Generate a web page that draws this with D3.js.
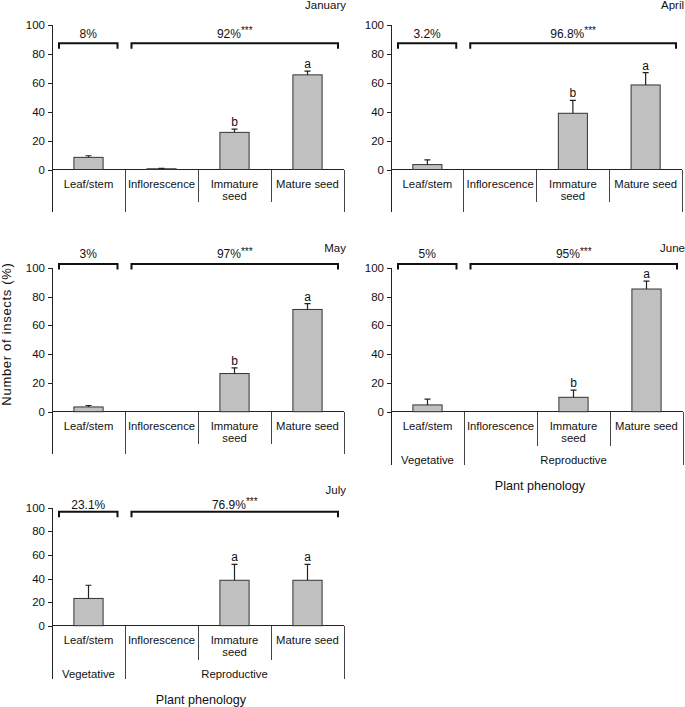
<!DOCTYPE html>
<meta charset="utf-8">
<script src="https://d3js.org/d3.v7.min.js"></script>
<style>
body { margin: 0; background: #fff; }
svg text { font-family: "Liberation Sans", Arial, sans-serif; fill: #111; }
</style>
<svg class="chart" width="685" height="707"></svg>
<script>
var categories = ["Leaf/stem", "Inflorescence", "Immature seed", "Mature seed"];
var catLines = [["Leaf/stem"], ["Inflorescence"], ["Immature", "seed"], ["Mature seed"]];
var groups = ["Vegetative", "Reproductive"];
var months = ["January", "April", "May", "June", "July"];
var yTicks = [0, 20, 40, 60, 80, 100];

// mean % of insects per plant part, one row per month
var means = [
  [8.4, 0.5, 25.7, 65.5],
  [3.4, 0, 38.9, 58.5],
  [3.3, 0, 26.5, 71],
  [4.7, 0, 10, 85.2],
  [23.1, 0, 38.5, 38.5]
];
var errs = [
  [1.1, 0.3, 2.2, 2.6],
  [3.2, 0, 9, 8.5],
  [1, 0, 4, 4],
  [4, 0, 5, 5.5],
  [11.2, 0, 13.5, 13.5]
];
var letters = [
  ["", "", "b", "a"],
  ["", "", "b", "a"],
  ["", "", "b", "a"],
  ["", "", "b", "a"],
  ["", "", "a", "a"]
];
var vegPct = ["8%", "3.2%", "3%", "5%", "23.1%"];
var repPct = ["92%", "96.8%", "97%", "95%", "76.9%"];
var repStars = ["***", "***", "***", "***", "***"];

// where each panel sits on the page
var layout = [
  {x0: 52, x1: 344, top: 25, bottom: 169.5, brk: 43.3, pct: 37.5, month: 9, grp: false},
  {x0: 391, x1: 682, top: 25, bottom: 169.5, brk: 43.3, pct: 37.5, month: 9, grp: false},
  {x0: 52, x1: 344, top: 267.7, bottom: 411.7, brk: 264, pct: 258, month: 252, grp: false},
  {x0: 391, x1: 683, top: 267.7, bottom: 411.7, brk: 264, pct: 258, month: 252, grp: true},
  {x0: 52, x1: 344, top: 507.7, bottom: 625.7, brk: 511.7, pct: 508.5, month: 494, grp: true}
];

var svg = d3.select(".chart");

months.forEach(function(m, i) {
  var p = layout[i];
  var g = svg.append("g");
  var x = d3.scaleBand().domain(categories).range([p.x0, p.x1]);
  var y = d3.scaleLinear().domain([0, 100]).range([p.bottom, p.top]);
  var bw = x.bandwidth();
  var outerExt = p.grp ? 53.5 : 42.5;
  var innerExt = p.grp ? 34 : 32.5;

  // y axis
  var ax = g.append("g").attr("transform", "translate(" + p.x0 + ",0)")
    .call(d3.axisLeft(y).tickValues(yTicks).tickSize(4).tickPadding(3));
  ax.select(".domain").remove();
  ax.selectAll("line").attr("stroke", "#222").attr("shape-rendering", "crispEdges");
  ax.selectAll("text").attr("font-size", "11.5px").attr("font-family", "Liberation Sans, Arial, sans-serif").attr("fill", "#111");

  g.append("line").attr("x1", p.x0).attr("x2", p.x0)
    .attr("y1", y(100)).attr("y2", y(0) + outerExt)
    .attr("stroke", "#222").attr("shape-rendering", "crispEdges");
  g.append("line").attr("x1", p.x0).attr("x2", p.x1)
    .attr("y1", y(0)).attr("y2", y(0))
    .attr("stroke", "#222").attr("shape-rendering", "crispEdges");

  // category separators under the axis
  var bounds = [p.x0].concat(categories.slice(1).map(function(c) { return x(c); })).concat([p.x1]);
  bounds.forEach(function(bx, k) {
    if (k == 0) return;
    var ext = (k == 2 || k == 3) ? innerExt : outerExt;
    g.append("line").attr("x1", bx).attr("x2", bx)
      .attr("y1", y(0)).attr("y2", y(0) + ext)
      .attr("stroke", "#444").attr("shape-rendering", "crispEdges");
  });

  // category labels
  categories.forEach(function(c, k) {
    var t = g.append("text").attr("x", x(c) + bw / 2).attr("y", y(0) + 18)
      .attr("text-anchor", "middle").attr("font-size", "11.3px");
    catLines[k].forEach(function(line, j) {
      t.append("tspan").attr("x", x(c) + bw / 2).attr("dy", j == 0 ? 0 : 12.5).text(line);
    });
  });

  if (p.grp) {
    g.append("text").attr("x", x(categories[0]) + bw / 2).attr("y", y(0) + 52)
      .attr("text-anchor", "middle").attr("font-size", "11.3px").text(groups[0]);
    g.append("text").attr("x", (x(categories[1]) + p.x1) / 2).attr("y", y(0) + 52)
      .attr("text-anchor", "middle").attr("font-size", "11.3px").text(groups[1]);
    g.append("text").attr("x", (p.x0 + p.x1) / 2 + 3).attr("y", y(0) + 78)
      .attr("text-anchor", "middle").attr("font-size", "12.6px").text("Plant phenology");
  }

  // bars
  g.selectAll("rect.bar").data(means[i]).enter().append("rect")
    .attr("class", "bar")
    .attr("x", function(d, k) { return x(categories[k]) + bw * 0.3; })
    .attr("width", bw * 0.4)
    .attr("y", function(d) { return y(d); })
    .attr("height", function(d) { return y(0) - y(d); })
    .attr("fill", "#c0c0c0")
    .attr("stroke", function(d) { return d > 0 ? "#333" : "none"; })
    .attr("stroke-width", 1);

  // error bars, upward only
  means[i].forEach(function(d, k) {
    var e = errs[i][k];
    if (e <= 0) return;
    var cx = x(categories[k]) + bw / 2;
    g.append("path")
      .attr("d", "M" + cx + "," + y(d) + "V" + y(d + e) + "M" + (cx - 3) + "," + y(d + e) + "H" + (cx + 3))
      .attr("fill", "none").attr("stroke", "#222").attr("stroke-width", 1.2);
    if (letters[i][k]) {
      g.append("text").attr("x", cx).attr("y", y(d + e) - 3)
        .attr("text-anchor", "middle").attr("font-size", "12px").text(letters[i][k]);
    }
  });

  // brackets with percentages
  var s1 = x(categories[1]);
  var spans = [[p.x0 + 7, s1 - 7.5], [s1 + 6.5, p.x1 - 6]];
  spans.forEach(function(s, k) {
    g.append("path")
      .attr("d", "M" + s[0] + "," + (p.brk + 5.5) + "V" + p.brk + "H" + s[1] + "V" + (p.brk + 5.5))
      .attr("fill", "none").attr("stroke", "#111").attr("stroke-width", 2);
    var t = g.append("text").attr("x", (s[0] + s[1]) / 2).attr("y", p.pct)
      .attr("text-anchor", "middle").attr("font-size", "12px");
    if (k == 0) {
      t.text(vegPct[i]);
    } else {
      t.append("tspan").text(repPct[i]);
      t.append("tspan").attr("font-size", "10px").attr("dy", -3.5).text(repStars[i]);
    }
  });

  // month
  g.append("text").attr("x", p.x1 + 2).attr("y", p.month)
    .attr("text-anchor", "end").attr("font-size", "11.5px").text(m);
});

svg.append("text")
  .attr("transform", "translate(11,334) rotate(-90)")
  .attr("text-anchor", "middle").attr("font-size", "13px")
  .attr("letter-spacing", "0.7px")
  .text("Number of insects (%)");
</script>
